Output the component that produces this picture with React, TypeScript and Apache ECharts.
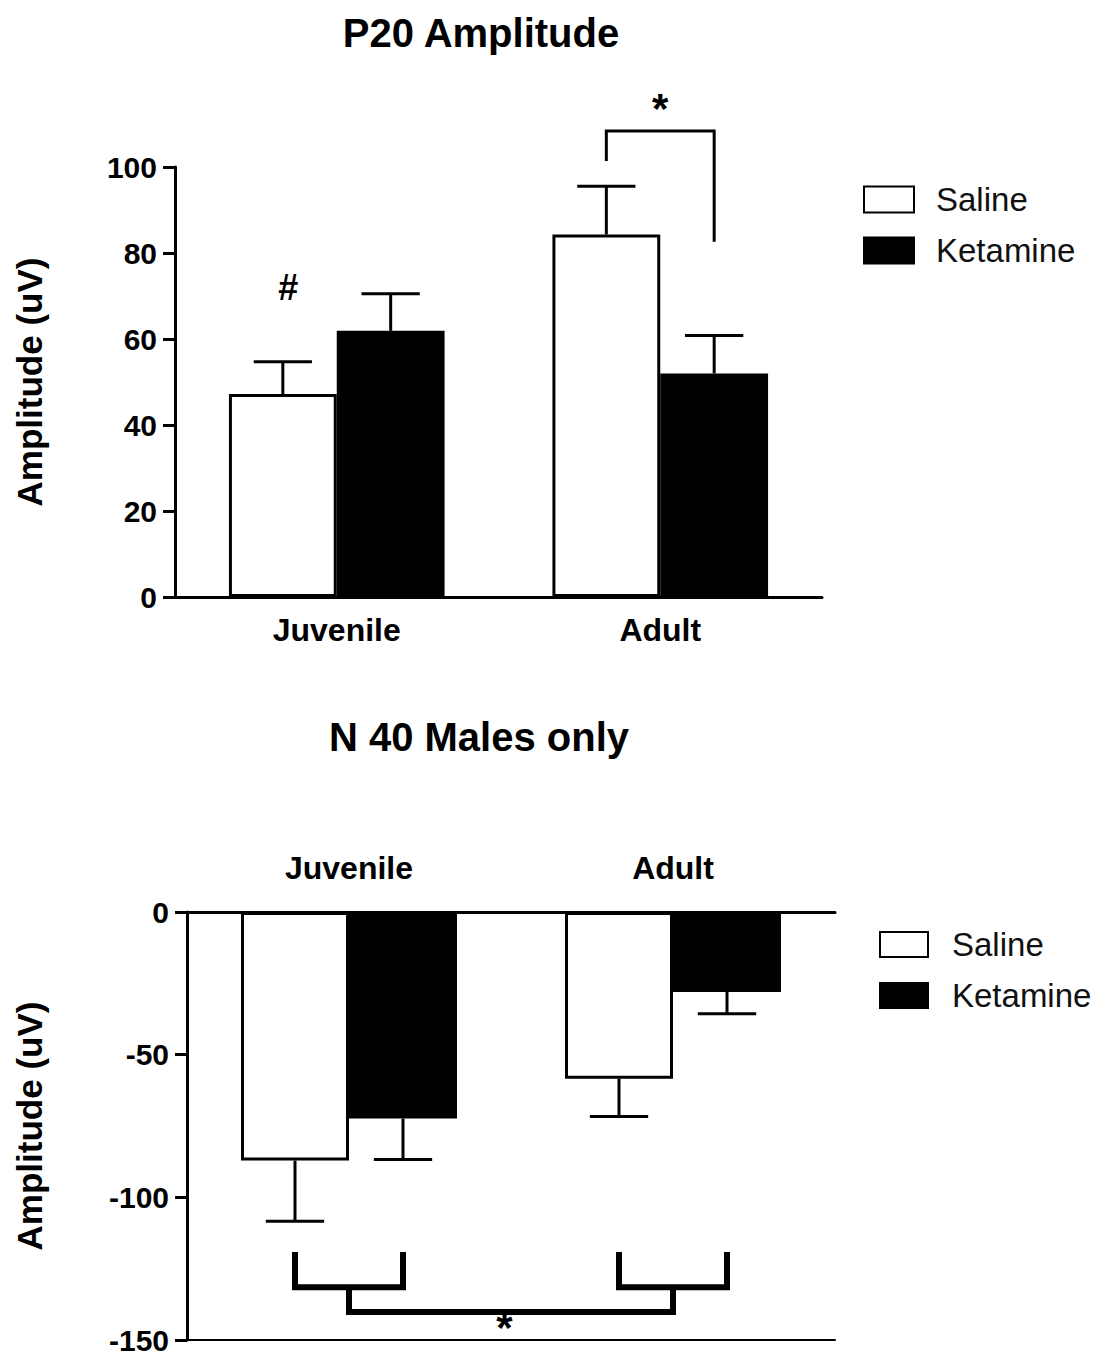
import React, { useEffect, useRef } from "react";
import * as echarts from "echarts";

// ---------- data ----------
const categories = ["Juvenile", "Adult"];
const seriesNames = ["Saline", "Ketamine"];

// P20 amplitude (uV)
const p20Saline = [47.2, 84.3];
const p20SalineErr = [7.5, 11.2];
const p20Ketamine = [61.9, 52.0];
const p20KetamineErr = [8.6, 8.8];
const p20Axis = { min: 0, max: 100, interval: 20 };

// N40 amplitude (uV), males only
const n40Saline = [-87.1, -58.4];
const n40SalineErr = [21.3, 13.3];
const n40Ketamine = [-72.4, -28.0];
const n40KetamineErr = [14.3, 7.7];
const n40Axis = { min: -150, max: 0, interval: 50 };

// annotation brackets: points as [categoryIndex, offset in bar widths, value]
const p20Brackets = [
  [[1, -0.5, 101.4], [1, -0.5, 108.4], [1, 0.5, 108.4], [1, 0.5, 82.6]],
];
const n40Brackets = [
  [[0, -0.5, -119.2], [0, -0.5, -131.5], [0, 0.5, -131.5], [0, 0.5, -119.2]],
  [[1, -0.5, -119.2], [1, -0.5, -131.5], [1, 0.5, -131.5], [1, 0.5, -119.2]],
  [[0, 0, -131.5], [0, 0, -140.2], [1, 0, -140.2], [1, 0, -131.5]],
];
const p20Marks = [
  { label: "#", cat: 0, off: -0.45, value: 72, size: 36 },
  { label: "*", cat: 1, off: 0, value: 113.5, size: 42 },
];
const n40Marks = [{ label: "*", cat: 0, off: 1.44, value: -145.5, size: 42 }];

const FONT = "'Liberation Sans', Arial, Helvetica, sans-serif";

function errRender(side: number) {
  return (params: any, api: any) => {
    const i = api.value(0);
    const v = api.value(1);
    const e = api.value(2);
    const base = api.coord([i, v]);
    const band = api.size([1, 0])[0];
    const bw = band / 3;
    const x = base[0] + (side * bw) / 2;
    const end = api.coord([i, v + (v >= 0 ? e : -e)])[1];
    const capHalf = bw * 0.27;
    return {
      type: "group",
      children: [
        { type: "line", shape: { x1: x, y1: base[1], x2: x, y2: end }, style: { stroke: "#000", lineWidth: 3 } },
        { type: "line", shape: { x1: x - capHalf, y1: end, x2: x + capHalf, y2: end }, style: { stroke: "#000", lineWidth: 3 } },
      ],
    };
  };
}

function bracketRender(brackets: number[][][], lw: number) {
  return (params: any, api: any) => {
    const pts = brackets[params.dataIndex];
    const band = api.size([1, 0])[0];
    const bw = band / 3;
    const points = pts.map((p) => {
      const c = api.coord([p[0], p[2]]);
      return [c[0] + p[1] * bw, c[1]];
    });
    return {
      type: "polyline",
      shape: { points },
      style: { stroke: "#000", lineWidth: lw, fill: null, lineJoin: "miter" },
    };
  };
}

function markRender(marks: any[]) {
  return (params: any, api: any) => {
    const m = marks[params.dataIndex];
    const band = api.size([1, 0])[0];
    const bw = band / 3;
    const c = api.coord([m.cat, m.value]);
    return {
      type: "text",
      x: c[0] + m.off * bw,
      y: c[1],
      style: {
        text: m.label,
        fontSize: m.size,
        fontWeight: "bold",
        fontFamily: FONT,
        fill: "#000",
        align: "center",
        verticalAlign: "middle",
      },
    };
  };
}

function zip(vals: number[], errs: number[]) {
  return vals.map((v, i) => [i, v, errs[i]]);
}

export default function App() {
  const ref = useRef<HTMLDivElement>(null);
  useEffect(() => {
    document.body.style.margin = "0";
    if (!ref.current) return;
    const chart = echarts.init(ref.current, null, { renderer: "svg" });

    const axisLabelY = { fontSize: 30, fontWeight: "bold", color: "#000", fontFamily: FONT, margin: 18 };
    const catLabel = { fontSize: 32, fontWeight: "bold", color: "#000", fontFamily: FONT };
    const nameStyle = { fontSize: 35, fontWeight: "bold", color: "#000", fontFamily: FONT };

    const barBase = (name: string, data: number[], idx: number, fill: string) => ({
      type: "bar",
      name,
      xAxisIndex: idx === 0 ? 0 : 1,
      yAxisIndex: idx,
      data,
      barWidth: "33.33%",
      barGap: "0%",
      itemStyle: { color: fill, borderColor: "#000", borderWidth: 3 },
      z: 2,
    });

    const option: any = {
      animation: false,
      backgroundColor: "#fff",
      title: [
        {
          text: "P20 Amplitude",
          left: 476,
          top: 8,
          textAlign: "center",
          textStyle: { fontSize: 40, fontWeight: "bold", color: "#000", fontFamily: FONT },
        },
        {
          text: "N 40 Males only",
          left: 474,
          top: 712,
          textAlign: "center",
          textStyle: { fontSize: 40, fontWeight: "bold", color: "#000", fontFamily: FONT },
        },
      ],
      legend: [
        {
          data: seriesNames,
          orient: "vertical",
          left: 863,
          top: 183,
          padding: 0,
          itemWidth: 50,
          itemHeight: 26,
          itemGap: 18,
          icon: "rect",
          textStyle: { fontSize: 33, color: "#111", fontFamily: FONT, padding: [0, 0, 0, 17] },
        },
        {
          data: seriesNames,
          orient: "vertical",
          left: 879,
          top: 928,
          padding: 0,
          itemWidth: 48,
          itemHeight: 25,
          itemGap: 18,
          icon: "rect",
          textStyle: { fontSize: 33, color: "#111", fontFamily: FONT, padding: [0, 0, 0, 19] },
        },
      ],
      grid: [
        { left: 175, top: 167, width: 647, height: 430 },
        { left: 187, top: 912, width: 648, height: 429 },
      ],
      xAxis: [
        {
          type: "category",
          gridIndex: 0,
          data: categories,
          axisLine: { lineStyle: { color: "#000", width: 3 } },
          axisTick: { alignWithLabel: true, length: 10, lineStyle: { color: "#000", width: 3 } },
          axisLabel: { ...catLabel, margin: 17 },
        },
        {
          type: "category",
          gridIndex: 1,
          position: "top",
          data: categories,
          axisLine: { onZero: false, lineStyle: { color: "#000", width: 3 } },
          axisTick: { show: false },
          axisLabel: { ...catLabel, margin: 28 },
        },
        {
          type: "category",
          gridIndex: 1,
          position: "bottom",
          data: categories,
          axisLine: { onZero: false, lineStyle: { color: "#000", width: 2 } },
          axisTick: { alignWithLabel: true, length: 10, lineStyle: { color: "#000", width: 2 } },
          axisLabel: { show: false },
        },
      ],
      yAxis: [
        {
          type: "value",
          gridIndex: 0,
          min: p20Axis.min,
          max: p20Axis.max,
          interval: p20Axis.interval,
          name: "Amplitude (uV)",
          nameLocation: "middle",
          nameGap: 128,
          nameTextStyle: nameStyle,
          splitLine: { show: false },
          axisLine: { show: true, lineStyle: { color: "#000", width: 3 } },
          axisTick: { show: true, length: 12, lineStyle: { color: "#000", width: 3 } },
          axisLabel: axisLabelY,
        },
        {
          type: "value",
          gridIndex: 1,
          min: n40Axis.min,
          max: n40Axis.max,
          interval: n40Axis.interval,
          name: "Amplitude (uV)",
          nameLocation: "middle",
          nameGap: 140,
          nameTextStyle: nameStyle,
          splitLine: { show: false },
          axisLine: { show: true, onZero: false, lineStyle: { color: "#000", width: 3 } },
          axisTick: { show: true, length: 12, lineStyle: { color: "#000", width: 3 } },
          axisLabel: axisLabelY,
        },
      ],
      series: [
        barBase("Saline", p20Saline, 0, "#fff"),
        barBase("Ketamine", p20Ketamine, 0, "#000"),
        barBase("Saline", n40Saline, 1, "#fff"),
        barBase("Ketamine", n40Ketamine, 1, "#000"),
        {
          type: "custom",
          xAxisIndex: 0,
          yAxisIndex: 0,
          renderItem: errRender(-1),
          data: zip(p20Saline, p20SalineErr),
          encode: { x: 0, y: 1 },
          z: 3,
          silent: true,
        },
        {
          type: "custom",
          xAxisIndex: 0,
          yAxisIndex: 0,
          renderItem: errRender(1),
          data: zip(p20Ketamine, p20KetamineErr),
          encode: { x: 0, y: 1 },
          z: 3,
          silent: true,
        },
        {
          type: "custom",
          xAxisIndex: 1,
          yAxisIndex: 1,
          renderItem: errRender(-1),
          data: zip(n40Saline, n40SalineErr),
          encode: { x: 0, y: 1 },
          z: 3,
          silent: true,
        },
        {
          type: "custom",
          xAxisIndex: 1,
          yAxisIndex: 1,
          renderItem: errRender(1),
          data: zip(n40Ketamine, n40KetamineErr),
          encode: { x: 0, y: 1 },
          z: 3,
          silent: true,
        },
        {
          type: "custom",
          xAxisIndex: 0,
          yAxisIndex: 0,
          renderItem: bracketRender(p20Brackets, 3),
          data: p20Brackets.map((b) => [b[0][0], b[0][2]]),
          encode: { x: 0, y: 1 },
          z: 4,
          silent: true,
          clip: false,
        },
        {
          type: "custom",
          xAxisIndex: 1,
          yAxisIndex: 1,
          renderItem: bracketRender(n40Brackets, 6),
          data: n40Brackets.map((b) => [b[0][0], b[0][2]]),
          encode: { x: 0, y: 1 },
          z: 4,
          silent: true,
        },
        {
          type: "custom",
          xAxisIndex: 0,
          yAxisIndex: 0,
          renderItem: markRender(p20Marks),
          data: p20Marks.map((m) => [m.cat, m.value]),
          encode: { x: 0, y: 1 },
          z: 4,
          silent: true,
          clip: false,
        },
        {
          type: "custom",
          xAxisIndex: 1,
          yAxisIndex: 1,
          renderItem: markRender(n40Marks),
          data: n40Marks.map((m) => [m.cat, m.value]),
          encode: { x: 0, y: 1 },
          z: 4,
          silent: true,
        },
      ],
    };
    chart.setOption(option);
    return () => chart.dispose();
  }, []);
  return <div ref={ref} style={{ width: 1108, height: 1355 }} />;
}
